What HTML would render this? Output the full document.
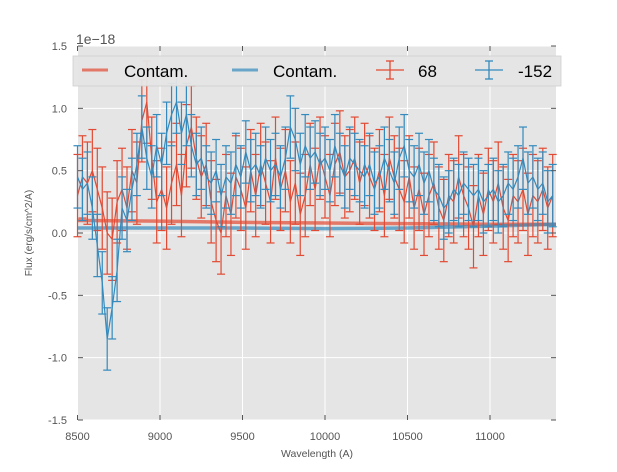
<!DOCTYPE html>
<html><head><meta charset="utf-8"><style>
body{margin:0;background:#fff;font-family:"Liberation Sans","DejaVu Sans",sans-serif}
svg text{font-family:"Liberation Sans","DejaVu Sans",sans-serif}
</style></head><body>
<svg id="chart" width="617" height="467" xmlns="http://www.w3.org/2000/svg">
<rect x="78" y="46" width="478" height="374" fill="#e5e5e5"/>
<g id="grid"></g>
<g id="contam"></g>
<g id="series"></g>
<g id="axes"></g>
<text x="76" y="44" font-size="14" fill="#555">1e−18</text>
<text transform="translate(32,233) rotate(-90)" text-anchor="middle" font-size="10" fill="#555">Flux (erg/s/cm^2/A)</text>
<text x="317" y="457" text-anchor="middle" font-size="10.5" fill="#555">Wavelength (A)</text>
<g>
<rect x="73" y="56" width="488" height="30" fill="#e5e5e5" stroke="#ccc" stroke-width="0.8" opacity="0.95"/>
<line x1="82" y1="70" x2="108" y2="70" stroke="#E24A33" stroke-width="3" opacity="0.7"/>
<text x="124" y="77" font-size="17" fill="#000">Contam.</text>
<line x1="232" y1="70" x2="258" y2="70" stroke="#348ABD" stroke-width="3" opacity="0.7"/>
<text x="273" y="77" font-size="17" fill="#000">Contam.</text>
<g stroke="#E24A33" stroke-width="1.3"><line x1="376" y1="70" x2="404" y2="70"/><line x1="390" y1="61" x2="390" y2="79"/><line x1="376" y1="61" x2="404" y2="61" stroke-width="0"/><line x1="386" y1="61" x2="394" y2="61"/><line x1="386" y1="79" x2="394" y2="79"/></g>
<text x="418" y="77" font-size="17" fill="#000">68</text>
<g stroke="#348ABD" stroke-width="1.3"><line x1="475" y1="70" x2="503" y2="70"/><line x1="489" y1="61" x2="489" y2="79"/><line x1="485" y1="61" x2="493" y2="61"/><line x1="485" y1="79" x2="493" y2="79"/></g>
<text x="518" y="77" font-size="17" fill="#000">-152</text>
</g>
</svg>
<script>
const startWave = 8500, stepWave = 30;
const xTicks = [8500, 9000, 9500, 10000, 10500, 11000];
const yTicks = [-1.5, -1.0, -0.5, 0.0, 0.5, 1.0, 1.5];
const blueVals = [0.45,0.35,0.40,0.20,-0.10,-0.40,-0.85,-0.60,-0.30,0.20,0.10,0.35,0.55,0.85,0.60,0.45,0.70,0.55,0.80,0.95,1.05,0.80,0.95,0.70,0.55,0.60,0.45,0.40,0.50,0.30,0.45,0.40,0.55,0.45,0.65,0.50,0.55,0.45,0.60,0.50,0.55,0.45,0.60,0.85,0.75,0.55,0.70,0.60,0.65,0.55,0.60,0.50,0.70,0.55,0.45,0.60,0.55,0.50,0.45,0.55,0.40,0.45,0.60,0.50,0.40,0.60,0.70,0.50,0.45,0.55,0.40,0.50,0.35,0.30,0.20,0.25,0.35,0.30,0.40,0.35,0.30,0.35,0.25,0.30,0.35,0.25,0.30,0.40,0.35,0.45,0.60,0.40,0.45,0.35,0.40,0.25,0.30];
const redVals = [0.30,0.45,0.40,0.50,0.35,0.20,0.00,-0.05,0.25,0.35,0.20,0.50,0.40,0.90,1.05,0.60,0.25,0.35,0.20,0.40,0.55,0.30,0.70,0.85,0.60,0.45,0.55,0.25,0.10,0.00,0.30,0.15,0.45,0.35,0.20,0.50,0.30,0.55,0.40,0.25,0.60,0.35,0.50,0.25,0.40,0.15,0.30,0.55,0.35,0.60,0.45,0.30,0.55,0.65,0.45,0.50,0.60,0.40,0.55,0.45,0.35,0.50,0.30,0.60,0.45,0.35,0.25,0.45,0.20,0.35,0.15,0.30,0.40,0.20,0.10,0.30,0.25,0.45,0.30,0.20,0.05,0.30,0.15,0.35,0.25,0.40,0.20,0.10,0.30,0.25,0.35,0.15,0.30,0.25,0.35,0.20,0.30];
const redErr = 0.33, blueErr = 0.25;
const contamWaves = [8500, 9000, 9500, 10000, 10500, 11000, 11400];
const contamRed = [0.10, 0.095, 0.085, 0.08, 0.075, 0.07, 0.07];
const contamBlue = [0.04, 0.04, 0.04, 0.035, 0.04, 0.055, 0.07];

const xS = w => 77.5 + (w - 8500) * (82.5 / 500);
const yS = v => 233 - v * (374 / 3);
const NS = "http://www.w3.org/2000/svg";
function mk(tag, attrs, parent) { const e = document.createElementNS(NS, tag); for (const k in attrs) e.setAttribute(k, attrs[k]); parent.appendChild(e); return e; }

const grid = document.getElementById('grid'), axes = document.getElementById('axes');
xTicks.forEach(t => {
  const g = mk('line', {x1: xS(t), x2: xS(t), y1: 46, y2: 420, stroke: '#fff', 'stroke-width': 1}, grid);
  
  
  const l = mk('text', {x: xS(t), y: 440, 'text-anchor': 'middle', 'font-size': 11, fill: '#555'}, axes);
  l.textContent = t;
  
  
});
yTicks.forEach(t => {
  const g = mk('line', {x1: 78, x2: 556, y1: yS(t), y2: yS(t), stroke: '#fff', 'stroke-width': 1}, grid);
  
  
  const l = mk('text', {x: 67, y: yS(t) + 4, 'text-anchor': 'end', 'font-size': 11, fill: '#555'}, axes);
  l.textContent = t.toFixed(1);
  
  
});

const contam = document.getElementById('contam');
[[contamRed, '#E24A33', 'contam-red-line'], [contamBlue, '#348ABD', 'contam-blue-line']].forEach(([arr, c, n]) => {
  const p = mk('polyline', {points: arr.map((v, i) => xS(contamWaves[i]) + ',' + yS(v)).join(' '), fill: 'none', stroke: c, 'stroke-width': 3.5, opacity: 0.7}, contam);
  
  
});

const series = document.getElementById('series');
function drawSeries(vals, err, color, name) {
  const g = mk('g', {stroke: color, 'stroke-width': 1.2, fill: 'none'}, series);
  
  
  const pts = [];
  vals.forEach((v, i) => {
    const w = startWave + i * stepWave;
    if (w > 11400) return;
    const x = xS(w);
    pts.push(x + ',' + yS(v));
    const top = Math.max(46, yS(v + err)), bot = Math.min(420, yS(v - err));
    mk('line', {x1: x, x2: x, y1: top, y2: bot}, g);
    if (yS(v + err) >= 46) mk('line', {x1: x - 4, x2: x + 4, y1: top, y2: top}, g);
    if (yS(v - err) <= 420) mk('line', {x1: x - 4, x2: x + 4, y1: bot, y2: bot}, g);
  });
  mk('polyline', {points: pts.join(' ')}, g);
}
drawSeries(redVals, redErr, '#E24A33', 'series-68');
drawSeries(blueVals, blueErr, '#348ABD', 'series-minus-152');

xTicks.forEach(t => { mk('line', {x1: xS(t), x2: xS(t), y1: 420, y2: 415, stroke: '#555'}, axes); mk('line', {x1: xS(t), x2: xS(t), y1: 46, y2: 51, stroke: '#555'}, axes); });
yTicks.forEach(t => { mk('line', {x1: 78, x2: 83, y1: yS(t), y2: yS(t), stroke: '#555'}, axes); mk('line', {x1: 556, x2: 551, y1: yS(t), y2: yS(t), stroke: '#555'}, axes); });
</script>
</body></html>
